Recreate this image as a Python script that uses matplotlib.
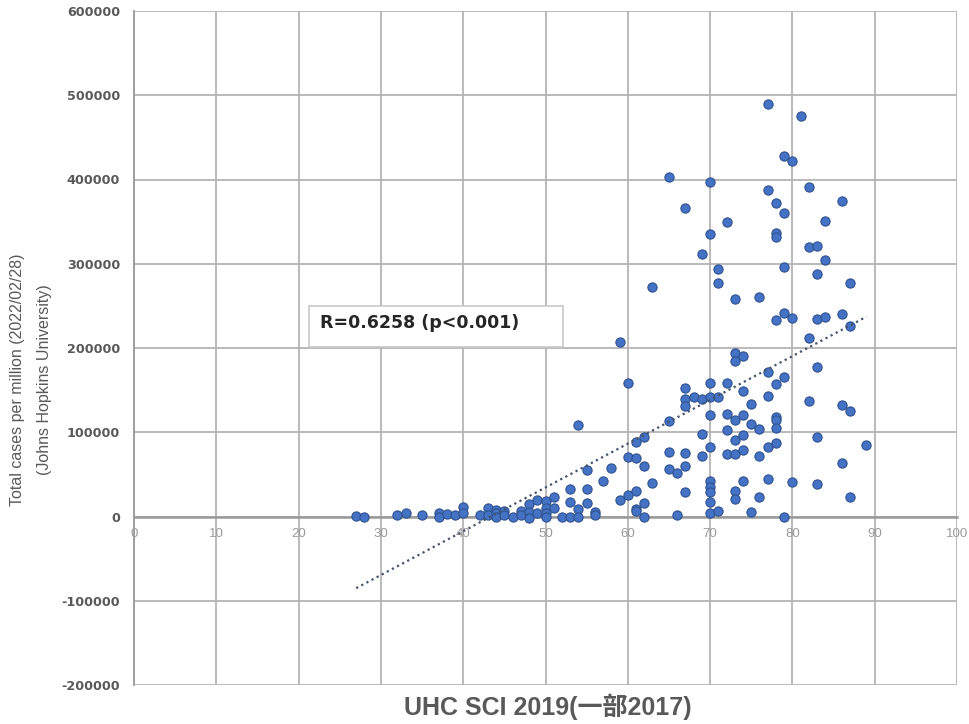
import numpy as np
import matplotlib
matplotlib.use("Agg")
import matplotlib.pyplot as plt
from matplotlib.patches import Rectangle

plt.rcParams["axes.unicode_minus"] = False

# UHC SCI (x) and total cases per million (y)
uhc = [27, 28, 32, 33, 35, 37, 37, 38, 39, 40, 40, 42, 43, 43, 44, 44, 44, 45, 45, 46,
       47, 47, 48, 48, 48, 49, 49, 50, 50, 50, 50, 51, 51,
       52, 53, 53, 53, 54, 54, 55, 55, 56, 56, 57, 59, 60, 61, 61, 61, 62, 62, 63,
       54, 55, 58, 59, 60, 60, 61, 61, 62, 62, 63,
       65, 65, 65, 65, 66, 66,
       67, 67, 67, 67, 67, 67, 67, 68, 69, 69, 69, 69,
       70, 70, 70, 70, 70, 70, 70, 70, 70, 70, 70,
       71, 71, 71, 71, 72, 72, 72, 72, 72,
       73, 73, 73, 73, 73, 73, 73, 73, 74, 74, 74, 74, 74, 74,
       75, 75, 75, 76, 76, 76, 76, 77, 77, 77, 77, 77, 77,
       78, 78, 78, 78, 78, 78, 78, 78, 78, 79, 79, 79, 79, 79, 79,
       80, 80, 80, 81, 82, 82, 82, 82, 83, 83, 83, 83, 83, 83,
       84, 84, 84, 86, 86, 86, 86, 87, 87, 87, 87, 89]
cases = [500, 0, 2000, 4400, 2000, 4400, 0, 3200, 1500, 11500, 4200, 1500, 9900, 1500,
         8000, 4400, 0, 6000, 2000, 0,
         6000, 2000, 14400, 4800, -1200, 19800, 4200, 18400, 10500, 4200, 0, 23300, 10600,
         0, 33000, 16800, 0, 9100, 0, 33000, 15900, 5000, 1500, 42000, 19400, 26000,
         30000, 9000, 6300, 15800, 0, 40300,
         109000, 55600, 58000, 207000, 158000, 70200, 70000, 88500, 94000, 60500, 272000,
         403000, 113000, 76000, 55800, 52000, 2000,
         366000, 153000, 139000, 131000, 75000, 60500, 29300, 142000,
         312000, 140000, 98000, 72000,
         397000, 335000, 158000, 142000, 120000, 83000, 42700, 34800, 28800, 17800, 3900,
         294000, 277000, 142000, 6700, 350000, 158000, 122000, 103000, 74000,
         258000, 194000, 185000, 115000, 91000, 74000, 30500, 21000,
         191000, 149000, 121000, 97000, 79000, 42000,
         134000, 110000, 5900, 260000, 104000, 72000, 23700,
         490000, 388000, 172000, 143000, 82000, 45000,
         372000, 337000, 332000, 233000, 157000, 118000, 114000, 105000, 87000,
         428000, 360000, 296000, 241000, 165000, 0,
         422000, 236000, 41000, 475000, 391000, 320000, 212000, 137000,
         321000, 288000, 234000, 177000, 94000, 39000,
         351000, 305000, 237000, 375000, 240000, 132000, 63000,
         277000, 226000, 125000, 23000, 85000]

x_ticks = [0, 10, 20, 30, 40, 50, 60, 70, 80, 90, 100]
y_ticks = [-200000, -100000, 0, 100000, 200000, 300000, 400000, 500000, 600000]
annotation = "R=0.6258 (p<0.001)"
xlabel = "UHC SCI 2019(一部2017)"
ylabel1 = "Total cases per million (2022/02/28)"
ylabel2 = "(Johns Hopkins University)"

W, H = 970, 724
fig = plt.figure(figsize=(W / 100, H / 100), dpi=100)
ax = fig.add_axes([134 / W, 1 - 685 / H, 823 / W, 674 / H])

ax.set_xlim(0, 100)
ax.set_ylim(-200000, 600000)
ax.set_xticks(x_ticks)
ax.set_yticks(y_ticks)
ax.grid(True, color="#b4b4b4", linewidth=1.3, zorder=0)
ax.set_axisbelow(True)

for s in ["top", "right"]:
    ax.spines[s].set_visible(False)
ax.spines["left"].set_color("#9a9a9a")
ax.spines["left"].set_linewidth(1.3)
ax.spines["bottom"].set_position(("data", 0))
ax.spines["bottom"].set_color("#9a9a9a")
ax.spines["bottom"].set_linewidth(1.8)

ax.tick_params(axis="x", length=0, pad=8, labelsize=9.5, labelcolor="#9a9a9a")
ax.tick_params(axis="y", length=0, pad=10, labelsize=9.2)
for lab in ax.get_xticklabels():
    lab.set_family("Liberation Sans")
for lab in ax.get_yticklabels():
    lab.set_fontweight("bold")
    lab.set_color("#595959")
    lab.set_family("DejaVu Sans")

x = np.array(uhc, dtype=float)
y = np.array(cases, dtype=float)
ax.scatter(x, y, s=44, facecolor="#4472C4", edgecolor="#2F528F", linewidth=0.8, zorder=3)

slope, intercept = np.polyfit(x, y, 1)
xl = np.array([x.min(), x.max()])
ax.plot(xl, slope * xl + intercept, linestyle=(0, (1, 1.6)), color="#44546A", linewidth=1.6, zorder=4)

# annotation box
box = Rectangle((309 / W, 1 - 347 / H), (563 - 309) / W, (347 - 306) / H,
                transform=fig.transFigure, facecolor="white", edgecolor="#c8c8c8",
                linewidth=1.2, zorder=5)
fig.patches.append(box)
fig.text(320 / W, 1 - 323 / H, annotation, fontsize=12.5, fontweight="bold",
         color="#262626", va="center", ha="left", family="DejaVu Sans", zorder=6)

fig.text(548 / W, 1 - 707 / H, xlabel, fontsize=18, fontweight="bold", color="#595959",
         ha="center", va="center", family=["Liberation Sans", "Noto Sans CJK JP"])
fig.text(18 / W, 1 - 380 / H, ylabel1, fontsize=11.5, color="#595959", rotation=90,
         ha="center", va="center", family="Liberation Sans")
fig.text(45 / W, 1 - 380 / H, ylabel2, fontsize=11.5, color="#595959", rotation=90,
         ha="center", va="center", family="Liberation Sans")

fig.savefig("out.png", dpi=100)
